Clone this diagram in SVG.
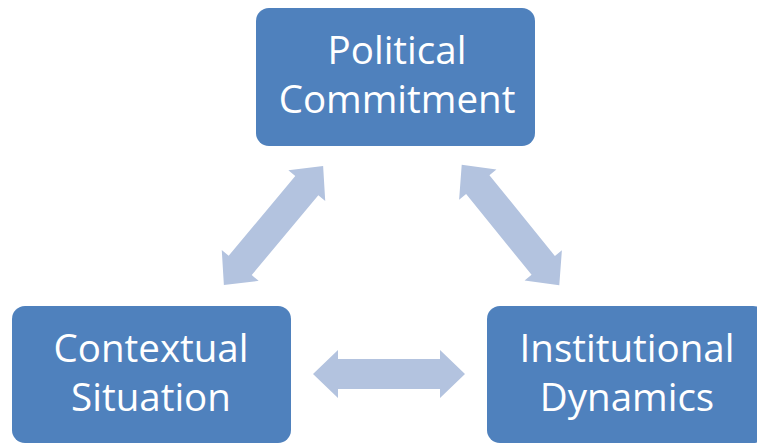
<svg xmlns="http://www.w3.org/2000/svg" width="757" height="444" viewBox="0 0 757 444">
<style>
.box{fill:#4F81BD;}
.lbl{fill:#FFFFFF;font-family:"Open Sans","Noto Sans","Liberation Sans",sans-serif;font-size:38.5px;text-anchor:middle;}
.arr{fill:#B3C3DF;}
</style>
<defs>
<path id="dblarrow" d="M-76,0 L-51,-24 L-51,-15 L51,-15 L51,-24 L76,0 L51,24 L51,15 L-51,15 L-51,24 Z"/>
</defs>
<rect width="757" height="444" fill="#FFFFFF"/>
<g id="connectors">
<use href="#dblarrow" class="arr" transform="translate(273.5,225.5) rotate(-50.2) scale(1.02,1)"/>
<use href="#dblarrow" class="arr" transform="translate(510.5,225) rotate(51) scale(1.02,1)"/>
<use href="#dblarrow" class="arr" transform="translate(389,374)"/>
</g>
<g id="political-commitment">
<rect class="box" x="256" y="8" width="279" height="138" rx="13"/>
<text class="lbl" x="397" y="64">Political</text>
<text class="lbl" x="397" y="113">Commitment</text>
</g>
<g id="contextual-situation">
<rect class="box" x="12" y="306" width="279" height="137" rx="13"/>
<text class="lbl" x="151" y="362">Contextual</text>
<text class="lbl" x="151" y="411">Situation</text>
</g>
<g id="institutional-dynamics">
<rect class="box" x="487" y="306" width="279" height="137" rx="13"/>
<text class="lbl" x="627" y="362">Institutional</text>
<text class="lbl" x="627" y="411">Dynamics</text>
</g>
</svg>
